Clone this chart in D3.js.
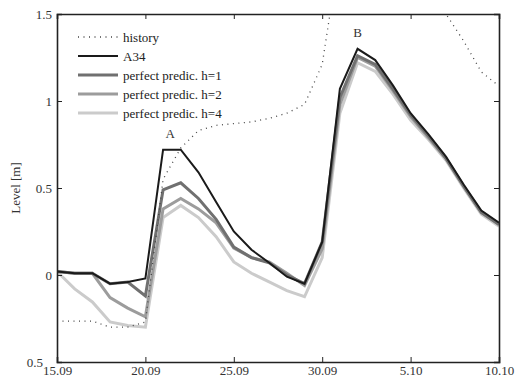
<!DOCTYPE html>
<html>
<head>
<meta charset="utf-8">
<script src="https://cdn.jsdelivr.net/npm/d3@7"></script>
<style>
  body { margin: 0; background: #fff; }
  svg { display: block; font-family: "Liberation Serif", "DejaVu Serif", serif; }
</style>
</head>
<body>
<div id="chart"></div>
<script>
// days from 15.09 to 10.10
const days = ["15.09","16.09","17.09","18.09","19.09","20.09","21.09","22.09","23.09","24.09","25.09","26.09","27.09",
  "28.09","29.09","30.09","1.10","2.10","3.10","4.10","5.10","6.10","7.10","8.10","9.10","10.10"];

const history = [-0.265,-0.265,-0.265,-0.30,-0.30,-0.27,0.55,0.73,0.83,0.86,0.87,0.88,0.90,0.93,0.98,1.21,1.87,2.0,2.0,2.0,1.95,1.75,1.50,1.345,1.167,1.086];
const a34 = [0.02,0.01,0.01,-0.05,-0.04,-0.02,0.72,0.72,0.59,0.42,0.25,0.145,0.07,-0.01,-0.05,0.19,1.07,1.30,1.235,1.09,0.93,0.81,0.68,0.52,0.37,0.30];
const h1 = [0.02,0.01,0.01,-0.05,-0.04,-0.12,0.49,0.53,0.44,0.32,0.16,0.10,0.07,0.00,-0.05,0.19,1.02,1.26,1.21,1.07,0.92,0.80,0.67,0.51,0.36,0.29];
const h2 = [0.02,0.01,0.01,-0.13,-0.19,-0.24,0.38,0.44,0.38,0.30,0.155,0.10,0.075,0.01,-0.06,0.15,0.98,1.25,1.20,1.06,0.91,0.79,0.67,0.51,0.36,0.29];
const h4 = [0.02,-0.08,-0.155,-0.27,-0.29,-0.30,0.33,0.40,0.33,0.22,0.075,0.01,-0.04,-0.09,-0.125,0.10,0.93,1.22,1.17,1.04,0.89,0.78,0.66,0.50,0.35,0.28];

const xTickDays = ["15.09","20.09","25.09","30.09","5.10","10.10"];
const yTicks = [-0.5, 0, 0.5, 1, 1.5];
const yTickLabels = ["0.5", "0", "0.5", "1", "1.5"];   // minus sign missing in the original

const series = [
  {name: "history", values: history},
  {name: "A34", values: a34},
  {name: "perfect predic. h=1", values: h1},
  {name: "perfect predic. h=2", values: h2},
  {name: "perfect predic. h=4", values: h4}
];
const styles = {
  "history": {stroke: "#444", width: 1.3, dash: "1,4.5"},
  "A34": {stroke: "#1a1a1a", width: 2, dash: null},
  "perfect predic. h=1": {stroke: "#707070", width: 3, dash: null},
  "perfect predic. h=2": {stroke: "#9c9c9c", width: 3, dash: null},
  "perfect predic. h=4": {stroke: "#cbcbcb", width: 3, dash: null}
};

const config = {width: 524, height: 383, top: 14, left: 57, bottom: 21, right: 25};
const w = config.width - config.left - config.right;
const h = config.height - config.top - config.bottom;

const svg = d3.select("#chart").append("svg")
    .attr("width", config.width)
    .attr("height", config.height);

const x = d3.scaleLinear().domain([0, days.length - 1]).range([config.left, config.left + w]);
const y = d3.scaleLinear().domain([-0.5, 1.5]).range([config.top + h, config.top]);

svg.append("clipPath").attr("id", "clip")
  .append("rect").attr("x", config.left).attr("y", config.top).attr("width", w).attr("height", h);

const line = d3.line().x((d, i) => x(i)).y(d => y(d));

// draw h4 first, A34 on top, history last
const drawOrder = ["perfect predic. h=4", "perfect predic. h=2", "perfect predic. h=1", "A34", "history"];
svg.append("g").attr("clip-path", "url(#clip)")
  .selectAll("path")
  .data(drawOrder.map(n => series.find(s => s.name === n)))
  .join("path")
    .attr("fill", "none")
    .attr("stroke", d => styles[d.name].stroke)
    .attr("stroke-width", d => styles[d.name].width)
    .attr("stroke-dasharray", d => styles[d.name].dash)
    .attr("stroke-linejoin", "miter")
    .attr("d", d => line(d.values));

// axes (box with inward ticks)
const tickIdx = xTickDays.map(d => days.indexOf(d));
const axisColor = "#222";
const bottomAxis = d3.axisBottom(x).tickValues(tickIdx).tickSize(-5).tickPadding(6)
    .tickFormat((d, i) => xTickDays[i]);
const topAxis = d3.axisTop(x).tickValues(tickIdx).tickSize(-5).tickFormat("");
const leftAxis = d3.axisLeft(y).tickValues(yTicks).tickSize(-5).tickPadding(5)
    .tickFormat((d, i) => yTickLabels[i]);
const rightAxis = d3.axisRight(y).tickValues(yTicks).tickSize(-5).tickFormat("");

const gb = svg.append("g").attr("transform", `translate(0,${config.top + h})`).call(bottomAxis);
const gt = svg.append("g").attr("transform", `translate(0,${config.top})`).call(topAxis);
const gl = svg.append("g").attr("transform", `translate(${config.left},0)`).call(leftAxis);
const gr = svg.append("g").attr("transform", `translate(${config.left + w},0)`).call(rightAxis);

[gb, gt, gl, gr].forEach(g => {
  g.select(".domain").attr("stroke", axisColor).attr("stroke-width", 1.6);
  g.selectAll(".tick line").attr("stroke", axisColor).attr("stroke-width", 1);
  g.selectAll("text").attr("fill", "#333").attr("font-size", 13).attr("font-family", "Liberation Serif, DejaVu Serif, serif");
});
gb.selectAll("text").attr("dy", "0.55em");
gl.selectAll("text").filter(d => d === -0.5).attr("dx", -9);

// y label
svg.append("text")
  .attr("transform", `translate(20,${config.top + h / 2}) rotate(-90)`)
  .attr("text-anchor", "middle")
  .attr("font-size", 13)
  .attr("fill", "#333")
  .text("Level [m]");

// peak annotations
svg.append("text").attr("x", x(days.indexOf("21.09")) + 7).attr("y", y(0.79))
  .attr("text-anchor", "middle").attr("font-size", 13).attr("fill", "#333").text("A");
svg.append("text").attr("x", x(days.indexOf("2.10"))).attr("y", y(1.37))
  .attr("text-anchor", "middle").attr("font-size", 13).attr("fill", "#333").text("B");

// legend
const legend = svg.append("g").attr("transform", "translate(78,37)");
const rows = legend.selectAll("g").data(series).join("g")
  .attr("transform", (d, i) => `translate(0,${i * 19})`);
rows.append("line")
  .attr("x1", 0).attr("x2", 40).attr("y1", 0).attr("y2", 0)
  .attr("stroke", d => styles[d.name].stroke)
  .attr("stroke-width", d => styles[d.name].width)
  .attr("stroke-dasharray", d => styles[d.name].dash);
rows.append("text")
  .attr("x", 45).attr("y", 4.5)
  .attr("font-size", 13).attr("fill", "#222")
  .text(d => d.name);
</script>
</body>
</html>
